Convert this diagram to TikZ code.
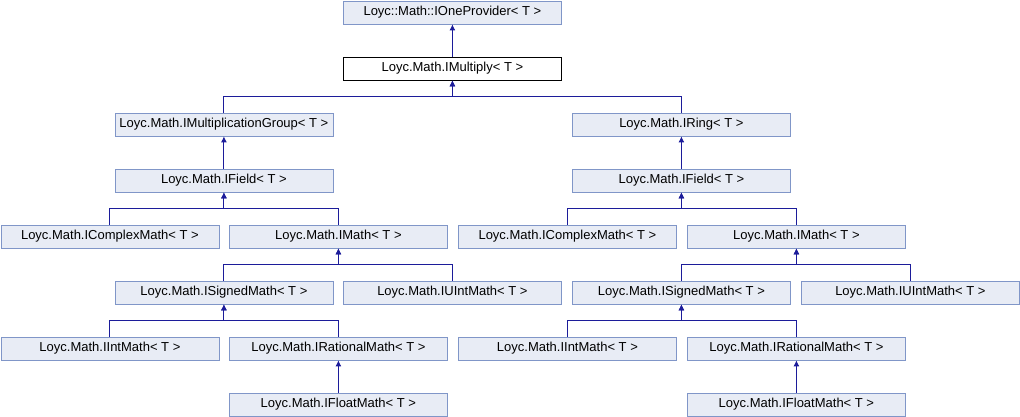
\documentclass[tikz,border=0pt]{standalone}
\usepackage{fontspec}
\setmainfont{Liberation Sans}
\usetikzlibrary{arrows.meta}
\definecolor{boxfill}{HTML}{E8ECF5}
\definecolor{boxline}{HTML}{8096C8}
\definecolor{inhline}{HTML}{1C1C9A}
\tikzset{
  cls/.style={draw=boxline, fill=boxfill, line width=0.8pt, minimum width=218pt,
    minimum height=23pt, inner sep=0pt, anchor=north west,
    font=\fontsize{13}{15}\selectfont},
  curcls/.style={cls, draw=black, fill=white},
  inh/.style={draw=inhline, line width=1.1pt, -{Latex[length=6pt,width=6pt]}}
}
\begin{document}
\begin{tikzpicture}[x=1pt,y=-1pt]
  \useasboundingbox (0,0) rectangle (1020,416);
  % Top of the hierarchy
  \node[cls] (one) at (343,0.5) {Loyc::Math::IOneProvider< T >};
  \node[curcls] (mul) at (343,56.5) {Loyc.Math.IMultiply< T >};

  % Left branch
  \node[cls] (grpL) at (114.5,112.5) {Loyc.Math.IMultiplicationGroup< T >};
  \node[cls] (fieldL) at (114.5,168.5) {Loyc.Math.IField< T >};
  \node[cls] (cplxL) at (0.5,224.5) {Loyc.Math.IComplexMath< T >};
  \node[cls] (mathL) at (229,224.5) {Loyc.Math.IMath< T >};
  \node[cls] (signL) at (114.5,280.5) {Loyc.Math.ISignedMath< T >};
  \node[cls] (uintL) at (343,280.5) {Loyc.Math.IUIntMath< T >};
  \node[cls] (intL) at (0.5,336.5) {Loyc.Math.IIntMath< T >};
  \node[cls] (ratL) at (229,336.5) {Loyc.Math.IRationalMath< T >};
  \node[cls] (fltL) at (229,392.5) {Loyc.Math.IFloatMath< T >};

  % Right branch
  \node[cls] (ringR) at (572,112.5) {Loyc.Math.IRing< T >};
  \node[cls] (fieldR) at (572,168.5) {Loyc.Math.IField< T >};
  \node[cls] (cplxR) at (458,224.5) {Loyc.Math.IComplexMath< T >};
  \node[cls] (mathR) at (687,224.5) {Loyc.Math.IMath< T >};
  \node[cls] (signR) at (572,280.5) {Loyc.Math.ISignedMath< T >};
  \node[cls] (uintR) at (801,280.5) {Loyc.Math.IUIntMath< T >};
  \node[cls] (intR) at (458,336.5) {Loyc.Math.IIntMath< T >};
  \node[cls] (ratR) at (687,336.5) {Loyc.Math.IRationalMath< T >};
  \node[cls] (fltR) at (687,392.5) {Loyc.Math.IFloatMath< T >};

  % Inheritance arrows
  \foreach \c/\p in {mul/one, grpL/mul, ringR/mul, fieldL/grpL, fieldR/ringR,
      cplxL/fieldL, mathL/fieldL, cplxR/fieldR, mathR/fieldR,
      signL/mathL, uintL/mathL, signR/mathR, uintR/mathR,
      intL/signL, ratL/signL, intR/signR, ratR/signR,
      fltL/ratL, fltR/ratR}
    \draw[inh] (\c.north) -- ++(0,-16) -| (\p.south);
\end{tikzpicture}
\end{document}
